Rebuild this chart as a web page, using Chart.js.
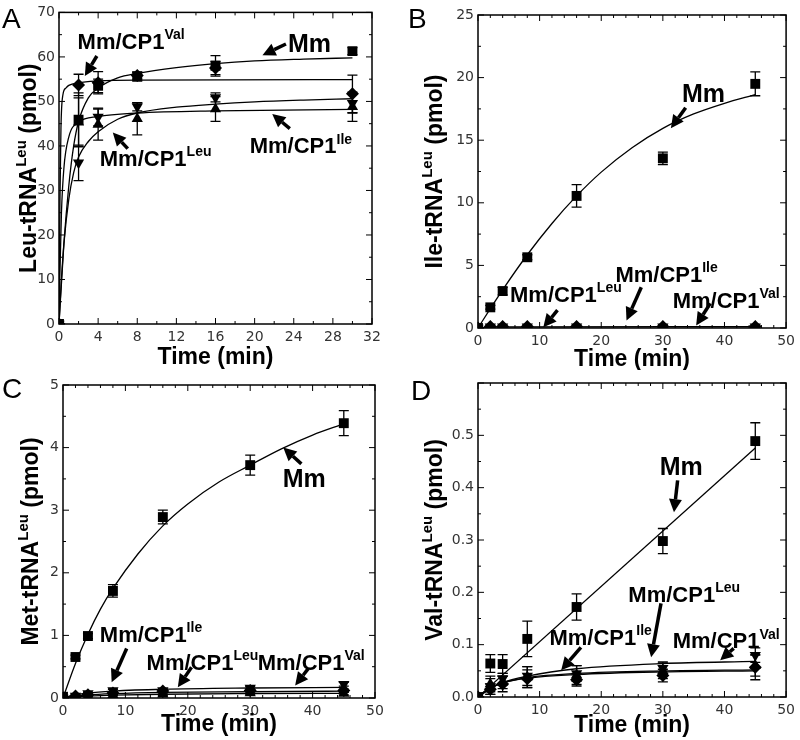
<!DOCTYPE html>
<html lang="en">
<head>
<meta charset="UTF-8">
<title>tRNA aminoacylation time courses</title>
<script src="https://cdn.jsdelivr.net/npm/chart.js"></script>
<style>
  body { margin: 0; background: #fff; }
  #wrap { position: relative; width: 800px; height: 740px; }
  .panel { position: absolute; width: 400px; height: 370px; }
</style>
</head>
<body>
<div id="wrap">
  <div class="panel" style="left:0;top:0"><canvas id="chartA" width="400" height="370"></canvas></div>
  <div class="panel" style="left:400px;top:0"><canvas id="chartB" width="400" height="370"></canvas></div>
  <div class="panel" style="left:0;top:370px"><canvas id="chartC" width="400" height="370"></canvas></div>
  <div class="panel" style="left:400px;top:370px"><canvas id="chartD" width="400" height="370"></canvas></div>
</div>
<script>
// ---- panel A: Leu-tRNA(Leu) ----
const timeA = [0, 2, 4, 8, 16, 30];
const aMm = [0, 45.9, 53.5, 55.6, 58.0, 61.3];
const aMmErr = [0, 6, 1.5, 1, 2.3, 0.8];
const aVal = [0, 53.7, 54.2, 55.8, 57.5, 51.7];
const aValErr = [0, 2.4, 2.5, 0.8, 1.5, 4.2];
const aLeu = [0, 36.2, 46.5, 48.8, 50.9, 49.6];
const aLeuErr = [0, 4, 2, 0.9, 1.0, 2.2];
const aIle = [0, 45.3, 44.8, 46.1, 48.3, 48.8];
const aIleErr = [0, 5.5, 3.5, 3.6, 2.8, 3.3];
// fitted curves
const aMmFitX = [0, 0.5, 1, 1.5, 2, 3, 4, 6, 8, 12, 16, 20, 25, 30];
const aMmFitY = [0, 18, 31, 40, 45.5, 50.8, 53, 55.3, 56.3, 57.6, 58.5, 59.1, 59.5, 59.8];
const aValFitX = [0, 0.1, 0.2, 0.4, 0.7, 1, 2, 4, 8, 30];
const aValFitY = [0, 28, 44, 51.5, 53, 53.6, 54.2, 54.6, 54.8, 54.9];
const aLeuFitX = [0, 0.25, 0.5, 1, 1.5, 2, 3, 4, 6, 8, 12, 16, 20, 25, 30];
const aLeuFitY = [0, 10, 18, 28, 34, 37.5, 41, 43.2, 46, 47.4, 48.7, 49.4, 49.9, 50.3, 50.6];
const aIleFitX = [0, 0.1, 0.25, 0.5, 1, 2, 4, 8, 16, 30];
const aIleFitY = [0, 12, 25, 35, 42, 45.3, 46.6, 47.4, 47.9, 48.2];

// ---- panel B: Ile-tRNA(Leu) ----
const timeB = [0, 2, 4, 8, 16, 30, 45];
const bMm = [0, 1.65, 2.95, 5.65, 10.55, 13.55, 19.5];
const bMmErr = [0, 0.15, 0.3, 0.2, 0.9, 0.5, 0.95];
const bVal = [0, 0.12, 0.12, 0.12, 0.12, 0.12, 0.12];
const bLeu = [0, 0.1, 0.1, 0.1, 0.1, 0.1, 0.1];
const bIle = [0, 0.08, 0.08, 0.08, 0.08, 0.08, 0.08];
const bMmFitX = [0, 2, 4, 8, 12, 16, 20, 25, 30, 35, 40, 45];
const bMmFitY = [0, 1.55, 3.05, 5.85, 8.35, 10.55, 12.45, 14.4, 15.95, 17.1, 17.95, 18.65];
const bLowFitX = [0, 2, 45];
const bLowFitY = [0, 0.08, 0.1];

// ---- panel C: Met-tRNA(Leu) ----
const timeC = [0, 2, 4, 8, 16, 30, 45];
const cMm = [0.02, 0.655, 0.99, 1.71, 2.89, 3.72, 4.39];
const cMmErr = [0, 0.03, 0.04, 0.1, 0.11, 0.16, 0.2];
const cLeu = [0, 0.03, 0.07, 0.12, 0.12, 0.16, 0.22];
const cLeuErr = [0, 0.01, 0.02, 0.02, 0.02, 0.02, 0.03];
const cVal = [0, 0.03, 0.05, 0.08, 0.11, 0.12, 0.12];
const cValErr = [0, 0.01, 0.01, 0.02, 0.02, 0.02, 0.02];
const cIle = [0, 0.02, 0.03, 0.05, 0.06, 0.08, 0.07];
const cIleErr = [0, 0.01, 0.01, 0.01, 0.02, 0.02, 0.02];
const cMmFitX = [0, 2, 4, 6, 8, 12, 16, 20, 25, 30, 35, 40, 45];
const cMmFitY = [0, 0.55, 1.02, 1.42, 1.75, 2.3, 2.75, 3.1, 3.45, 3.72, 3.98, 4.2, 4.38];
const cFitX = [0, 2, 4, 8, 16, 30, 45];
const cTopFitY = [0, 0.05, 0.08, 0.11, 0.14, 0.16, 0.17];
const cMidFitY = [0, 0.03, 0.05, 0.07, 0.09, 0.1, 0.11];
const cLowFitY = [0, 0.02, 0.03, 0.045, 0.06, 0.07, 0.075];

// ---- panel D: Val-tRNA(Leu) ----
const timeD = [0, 2, 4, 8, 16, 30, 45];
const dMm = [0, 0.064, 0.063, 0.111, 0.172, 0.298, 0.489];
const dMmErr = [0, 0.017, 0.018, 0.034, 0.025, 0.024, 0.035];
const dLeu = [0, 0.02, 0.035, 0.04, 0.045, 0.055, 0.08];
const dLeuErr = [0, 0.015, 0.01, 0.018, 0.015, 0.012, 0.014];
const dIle = [0, 0.025, 0.028, 0.038, 0.042, 0.05, 0.06];
const dIleErr = [0, 0.015, 0.012, 0.02, 0.018, 0.015, 0.02];
const dVal = [0, 0.015, 0.025, 0.035, 0.033, 0.041, 0.057];
const dValErr = [0, 0.01, 0.015, 0.017, 0.012, 0.012, 0.024];
const dMmFitX = [0, 45];
const dMmFitY = [0, 0.476];
const dFitX = [0, 2, 4, 8, 16, 30, 45];
const dTopFitY = [0, 0.016, 0.028, 0.04, 0.054, 0.064, 0.068];
const dMidFitY = [0, 0.017, 0.027, 0.037, 0.045, 0.05, 0.052];
const dLowFitY = [0, 0.018, 0.027, 0.036, 0.043, 0.048, 0.05];

const BOLD = '"Liberation Sans", Arial, sans-serif';
const MARK = {
  Mm: { style: 'rect', r: 7, rot: 0 },
  Val: { style: 'rectRot', r: 6.5, rot: 0 },
  Leu: { style: 'triangle', r: 6.5, rot: 180 },
  Ile: { style: 'triangle', r: 6.5, rot: 0 }
};

// draws "main" + superscript, left aligned, baseline y
function richText(ctx, x, y, parts, size, supSize) {
  let cx = x;
  parts.forEach(p => {
    ctx.font = 'bold ' + (p.sup ? supSize : size) + 'px ' + BOLD;
    ctx.fillText(p.t, cx, p.sup ? y - size * 0.45 : y);
    cx += ctx.measureText(p.t).width;
  });
}
function richWidth(ctx, parts, size, supSize) {
  let w = 0;
  parts.forEach(p => {
    ctx.font = 'bold ' + (p.sup ? supSize : size) + 'px ' + BOLD;
    w += ctx.measureText(p.t).width;
  });
  return w;
}

function arrow(ctx, x1, y1, x2, y2) {
  const ang = Math.atan2(y2 - y1, x2 - x1);
  const hl = 13, hw = 6.5;
  const bx = x2 - hl * Math.cos(ang), by = y2 - hl * Math.sin(ang);
  ctx.lineWidth = 3.5;
  ctx.beginPath(); ctx.moveTo(x1, y1); ctx.lineTo(bx, by); ctx.stroke();
  ctx.beginPath();
  ctx.moveTo(x2, y2);
  ctx.lineTo(bx + hw * Math.sin(ang), by - hw * Math.cos(ang));
  ctx.lineTo(bx - hw * Math.sin(ang), by + hw * Math.cos(ang));
  ctx.closePath(); ctx.fill();
}

const figPlugin = {
  id: 'fig',
  afterDatasetsDraw(chart) {
    const { ctx, scales: { x, y } } = chart;
    ctx.save();
    ctx.strokeStyle = '#000'; ctx.lineWidth = 1.3;
    chart.data.datasets.forEach((ds, i) => {
      if (!ds.err) return;
      chart.getDatasetMeta(i).data.forEach((pt, j) => {
        const e = ds.err[j];
        if (!e) return;
        const v = ds.data[j].y;
        const yt = y.getPixelForValue(v + e), yb = y.getPixelForValue(v - e);
        ctx.beginPath();
        ctx.moveTo(pt.x, yt); ctx.lineTo(pt.x, yb);
        ctx.moveTo(pt.x - 5, yt); ctx.lineTo(pt.x + 5, yt);
        ctx.moveTo(pt.x - 5, yb); ctx.lineTo(pt.x + 5, yb);
        ctx.stroke();
      });
    });
    ctx.restore();
  },
  afterDraw(chart) {
    const o = chart.options.plugins.fig;
    const { ctx, chartArea: a, scales: { x, y } } = chart;
    ctx.save();
    ctx.strokeStyle = '#000'; ctx.fillStyle = '#000';
    ctx.lineWidth = 1.5;
    ctx.strokeRect(a.left, a.top, a.right - a.left, a.bottom - a.top);

    // inward ticks on all four sides
    ctx.lineWidth = 1;
    ctx.beginPath();
    const isMajor = (v, step) => Math.abs(v / step - Math.round(v / step)) < 1e-6;
    for (let i = 0; ; i++) {
      const v = x.min + i * o.xMinor;
      if (v > x.max + 1e-9) break;
      const len = isMajor(v, o.xStep) ? 6 : 3;
      const px = x.getPixelForValue(v);
      ctx.moveTo(px, a.bottom); ctx.lineTo(px, a.bottom - len);
      ctx.moveTo(px, a.top); ctx.lineTo(px, a.top + len);
    }
    for (let i = 0; ; i++) {
      const v = y.min + i * o.yMinor;
      if (v > y.max + 1e-9) break;
      const len = isMajor(v, o.yStep) ? 6 : 3;
      const py = y.getPixelForValue(v);
      ctx.moveTo(a.left, py); ctx.lineTo(a.left + len, py);
      ctx.moveTo(a.right, py); ctx.lineTo(a.right - len, py);
    }
    ctx.stroke();

    // axis titles
    ctx.textBaseline = 'alphabetic';
    const xt = [{ t: 'Time (min)' }];
    const xw = richWidth(ctx, xt, 23, 15);
    richText(ctx, (a.left + a.right) / 2 - xw / 2, o.xTitleY, xt, 23, 15);
    ctx.save();
    ctx.translate(o.yTitleX, (a.top + a.bottom) / 2);
    ctx.rotate(-Math.PI / 2);
    const yw = richWidth(ctx, o.yTitle, 23, 15);
    richText(ctx, -yw / 2, 0, o.yTitle, 23, 15);
    ctx.restore();

    // panel letter
    ctx.font = '28px "Liberation Sans", Arial, sans-serif';
    ctx.fillText(o.letter, o.letterPos[0], o.letterPos[1]);

    // annotations with arrows
    o.notes.forEach(n => {
      const size = n.sup ? 22 : 25;
      const parts = n.sup ? [{ t: 'Mm/CP1' }, { t: n.sup, sup: true }] : [{ t: 'Mm' }];
      richText(ctx, x.getPixelForValue(n.x), y.getPixelForValue(n.y) + size * 0.36, parts, size, 14);
      arrow(ctx, x.getPixelForValue(n.tail[0]), y.getPixelForValue(n.tail[1]),
        x.getPixelForValue(n.head[0]), y.getPixelForValue(n.head[1]));
    });
    ctx.restore();
  }
};

function makePanel(id, p) {
  const datasets = [];
  p.series.forEach(s => {
    const m = MARK[s.kind];
    datasets.push({
      data: p.time.map((t, i) => ({ x: t, y: s.y[i] })),
      err: s.err,
      showLine: false,
      pointStyle: m.style, pointRadius: m.r, pointRotation: m.rot,
      backgroundColor: '#000', borderColor: '#000', borderWidth: 0
    });
  });
  p.fits.forEach(f => {
    datasets.push({
      data: f.x.map((t, i) => ({ x: t, y: f.y[i] })),
      showLine: true, pointRadius: 0, borderColor: '#000', borderWidth: 1.3,
      cubicInterpolationMode: 'monotone', fill: false
    });
  });
  const tickFont = { family: '"DejaVu Sans", sans-serif', size: 14 };
  new Chart(document.getElementById(id), {
    type: 'scatter',
    data: { datasets },
    plugins: [figPlugin],
    options: {
      responsive: false, animation: false, events: [],
      layout: { padding: { left: 0, top: p.area.top, right: 400 - p.area.right, bottom: 0 } },
      plugins: {
        legend: { display: false }, tooltip: { enabled: false },
        fig: {
          xStep: p.xStep, xMinor: p.xMinor, yStep: p.yStep, yMinor: p.yMinor,
          xTitleY: p.xTitleY, yTitleX: p.yTitleX, yTitle: p.yTitle,
          letter: p.letter, letterPos: p.letterPos, notes: p.notes
        }
      },
      scales: {
        x: {
          type: 'linear', min: 0, max: p.xMax,
          afterFit: s => { s.height = 370 - p.area.bottom; },
          grid: { display: false, drawTicks: false }, border: { display: false },
          ticks: { stepSize: p.xStep, autoSkip: false, maxRotation: 0, padding: 5, font: tickFont, color: '#333' }
        },
        y: {
          type: 'linear', min: 0, max: p.yMax,
          afterFit: s => { s.width = p.area.left; },
          grid: { display: false, drawTicks: false }, border: { display: false },
          ticks: { stepSize: p.yStep, autoSkip: false, padding: 4, font: tickFont, color: '#333', callback: p.yFmt }
        }
      }
    }
  });
}

makePanel('chartA', {
  time: timeA, xMax: 32, xStep: 4, xMinor: 2, yMax: 70, yStep: 10, yMinor: 5,
  area: { left: 59, top: 11, right: 372, bottom: 324 },
  xTitleY: 364, yTitleX: 36, letter: 'A', letterPos: [2, 28],
  yTitle: [{ t: 'Leu-tRNA' }, { t: 'Leu', sup: true }, { t: ' (pmol)' }],
  yFmt: v => v,
  series: [
    { kind: 'Mm', y: aMm, err: aMmErr },
    { kind: 'Val', y: aVal, err: aValErr },
    { kind: 'Leu', y: aLeu, err: aLeuErr },
    { kind: 'Ile', y: aIle, err: aIleErr }
  ],
  fits: [
    { x: aMmFitX, y: aMmFitY }, { x: aValFitX, y: aValFitY },
    { x: aLeuFitX, y: aLeuFitY }, { x: aIleFitX, y: aIleFitY }
  ],
  notes: [
    { x: 23.4, y: 63.1, tail: [23.2, 62.9], head: [20.8, 60.4] },
    { sup: 'Val', x: 1.9, y: 63.6, tail: [3.87, 60.2], head: [2.64, 55.7] },
    { sup: 'Leu', x: 4.17, y: 37.2, tail: [7.03, 39.4], head: [5.5, 43.0] },
    { sup: 'Ile', x: 19.5, y: 40.1, tail: [23.6, 43.9], head: [21.8, 47.2] }
  ]
});

makePanel('chartB', {
  time: timeB, xMax: 50, xStep: 10, xMinor: 2, yMax: 25, yStep: 5, yMinor: 2.5,
  area: { left: 78, top: 15, right: 390, bottom: 328 },
  xTitleY: 366, yTitleX: 42, letter: 'B', letterPos: [8, 28],
  yTitle: [{ t: 'Ile-tRNA' }, { t: 'Leu', sup: true }, { t: ' (pmol)' }],
  yFmt: v => v,
  series: [
    { kind: 'Mm', y: bMm, err: bMmErr },
    { kind: 'Val', y: bVal },
    { kind: 'Leu', y: bLeu },
    { kind: 'Ile', y: bIle }
  ],
  fits: [{ x: bMmFitX, y: bMmFitY }, { x: bLowFitX, y: bLowFitY }],
  notes: [
    { x: 33.1, y: 18.75, tail: [33.7, 17.6], head: [31.3, 15.95] },
    { sup: 'Leu', x: 5.2, y: 2.68, tail: [12.9, 1.42], head: [10.6, 0.06] },
    { sup: 'Ile', x: 22.3, y: 4.28, tail: [26.5, 3.25], head: [24.1, 0.6] },
    { sup: 'Val', x: 31.6, y: 2.2, tail: [37.7, 1.97], head: [35.4, 0.2] }
  ]
});

makePanel('chartC', {
  time: timeC, xMax: 50, xStep: 10, xMinor: 2, yMax: 5, yStep: 1, yMinor: 0.5,
  area: { left: 63, top: 15, right: 375, bottom: 328 },
  xTitleY: 361, yTitleX: 38, letter: 'C', letterPos: [2, 28],
  yTitle: [{ t: 'Met-tRNA' }, { t: 'Leu', sup: true }, { t: ' (pmol)' }],
  yFmt: v => v,
  series: [
    { kind: 'Mm', y: cMm, err: cMmErr },
    { kind: 'Leu', y: cLeu, err: cLeuErr },
    { kind: 'Val', y: cVal, err: cValErr },
    { kind: 'Ile', y: cIle, err: cIleErr }
  ],
  fits: [
    { x: cMmFitX, y: cMmFitY }, { x: cFitX, y: cTopFitY },
    { x: cFitX, y: cMidFitY }, { x: cFitX, y: cLowFitY }
  ],
  notes: [
    { x: 35.2, y: 3.51, tail: [38.2, 3.74], head: [35.3, 4.0] },
    { sup: 'Ile', x: 5.9, y: 1.02, tail: [10.2, 0.79], head: [7.8, 0.25] },
    { sup: 'Leu', x: 13.4, y: 0.57, tail: [20.6, 0.49], head: [18.4, 0.17] },
    { sup: 'Val', x: 31.2, y: 0.57, tail: [39.3, 0.47], head: [37.2, 0.2] }
  ]
});

makePanel('chartD', {
  time: timeD, xMax: 50, xStep: 10, xMinor: 2, yMax: 0.6, yStep: 0.1, yMinor: 0.05,
  area: { left: 78, top: 13, right: 390, bottom: 327 },
  xTitleY: 362, yTitleX: 42, letter: 'D', letterPos: [11, 30],
  yTitle: [{ t: 'Val-tRNA' }, { t: 'Leu', sup: true }, { t: ' (pmol)' }],
  yFmt: v => (v > 0.55 ? '' : v.toFixed(1)),
  series: [
    { kind: 'Mm', y: dMm, err: dMmErr },
    { kind: 'Leu', y: dLeu, err: dLeuErr },
    { kind: 'Ile', y: dIle, err: dIleErr },
    { kind: 'Val', y: dVal, err: dValErr }
  ],
  fits: [
    { x: dMmFitX, y: dMmFitY }, { x: dFitX, y: dTopFitY },
    { x: dFitX, y: dMidFitY }, { x: dFitX, y: dLowFitY }
  ],
  notes: [
    { x: 29.5, y: 0.441, tail: [32.4, 0.414], head: [31.8, 0.353] },
    { sup: 'Leu', x: 24.4, y: 0.196, tail: [29.7, 0.179], head: [28.1, 0.076] },
    { sup: 'Ile', x: 11.6, y: 0.114, tail: [16.7, 0.095], head: [13.5, 0.051] },
    { sup: 'Val', x: 31.6, y: 0.108, tail: [41.5, 0.093], head: [39.3, 0.07] }
  ]
});
</script>
</body>
</html>
